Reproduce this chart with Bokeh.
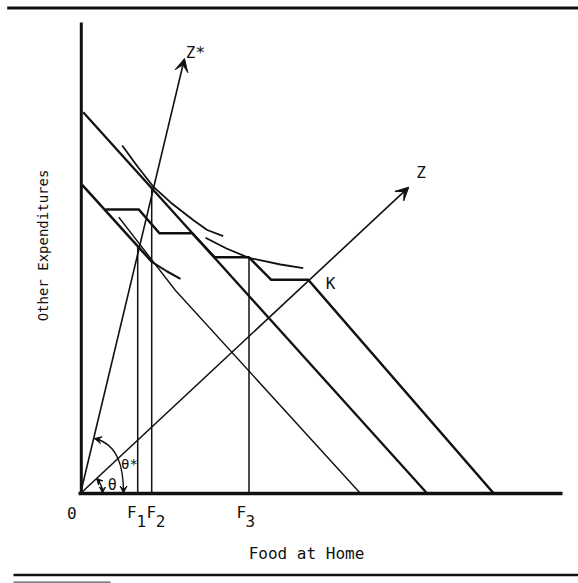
import math
from bokeh.plotting import figure
from bokeh.models import Range1d, Arrow, VeeHead
from bokeh.core.properties import value
from bokeh.embed import file_html
from bokeh.resources import INLINE

# ---------------- data (diagram units, origin at the axes corner) ----------------
axis_x = [-2, 482]
axis_y = [0, 471]

# outer budget line
budget_outer_x = [2.7, 346.7]
budget_outer_y = [381.3, 0.0]

# inner budget line (thick upper part) and lower indifference curve
budget_inner_x = [1.7, 71.7]
budget_inner_y = [308.7, 231.3]
ic_low_x = [71.7, 86.7, 100.0]
ic_low_y = [231.3, 222.0, 214.7]

# thin line (lower tangent / budget)
thin_x = [38.3, 95.0, 280.0]
thin_y = [276.3, 203.0, 0.0]

# kinked budget constraint through K
kinked_x = [25.0, 58.3, 79.0, 111.7, 134.0, 168.3, 190.7, 227.7, 413.3]
kinked_y = [284.0, 284.0, 260.3, 260.3, 236.3, 236.3, 213.7, 213.7, 0.0]

# indifference curves
ic_high_x = [41.7, 57.0, 73.3, 91.7, 113.3, 126.7, 142.7]
ic_high_y = [348.0, 327.0, 306.3, 289.7, 273.0, 263.5, 257.3]
ic_mid_x = [125.0, 146.0, 168.3, 200.0, 222.7]
ic_mid_y = [255.7, 245.0, 235.7, 229.0, 225.3]

# quantities F1, F2, F3 and heights of their vertical lines
f_names = ["1", "2", "3"]
f_x = [57.2, 71.2, 168.5]
f_top = [247.0, 306.3, 235.7]

# rays Z* and Z (end points)
zstar_end = (104.0, 435.0)
z_end = (328.3, 306.3)

# --------------------------------- figure ---------------------------------
p = figure(width=578, height=583, x_range=Range1d(-80, 498), y_range=Range1d(-90, 493),
           output_backend="svg", toolbar_location=None,
           x_axis_location=None, y_axis_location=None, min_border=0)
p.outline_line_color = None
p.grid.visible = False
p.background_fill_color = "white"
p.border_fill_color = "white"

INK = "#111111"
FONT = value("DejaVu Sans Mono")

# page rules
p.line([-73.3, 498], [485.5, 485.5], line_color=INK, line_width=3)
p.line([-67, 498], [-81.5, -81.5], line_color=INK, line_width=2.5)
p.line([-67, 30], [-88.7, -88.7], line_color="#555555", line_width=1.3)

# axes
p.line(axis_x, [0, 0], line_color=INK, line_width=3.5)
p.line([0.8, 0.8], axis_y, line_color=INK, line_width=3)

# budget lines
p.line(budget_outer_x, budget_outer_y, line_color=INK, line_width=2.3)
p.line(budget_inner_x, budget_inner_y, line_color=INK, line_width=2.5)
p.line(ic_low_x, ic_low_y, line_color=INK, line_width=2.0)
p.line(thin_x, thin_y, line_color=INK, line_width=1.4)
p.line(kinked_x, kinked_y, line_color=INK, line_width=2.5, line_join="miter")

# indifference curves
p.line(ic_high_x, ic_high_y, line_color=INK, line_width=1.8)
p.line(ic_mid_x, ic_mid_y, line_color=INK, line_width=1.8)

# vertical lines at F1, F2, F3
p.segment(x0=f_x, y0=[0, 0, 0], x1=f_x, y1=f_top, line_color=INK, line_width=1.5)

# rays
p.add_layout(Arrow(end=VeeHead(size=13, fill_color=INK, line_color=INK, line_width=1),
                   x_start=0, y_start=0, x_end=zstar_end[0], y_end=zstar_end[1],
                   line_color=INK, line_width=1.6))
p.add_layout(Arrow(end=VeeHead(size=13, fill_color=INK, line_color=INK, line_width=1),
                   x_start=0, y_start=0, x_end=z_end[0], y_end=z_end[1],
                   line_color=INK, line_width=1.6))

# angle theta* (curved double arrow between Z* and the axis)
p.bezier(x0=[43], y0=[0.5], x1=[14], y1=[55], cx0=[43], cy0=[25], cx1=[38.3], cy1=[49.1],
         line_color=INK, line_width=1.4)
for xs, ys, xe, ye in [(43, 7, 43, 0.5), (19.8, 53.6, 14, 55)]:
    p.add_layout(Arrow(end=VeeHead(size=7, fill_color=INK, line_color=INK, line_width=1),
                       x_start=xs, y_start=ys, x_end=xe, y_end=ye,
                       line_color=INK, line_width=1.2))

# angle theta (small arc between Z and the axis)
z_ang = math.atan2(z_end[1], z_end[0])
p.arc(x=[0], y=[0], radius=22, start_angle=0.03, end_angle=z_ang,
      line_color=INK, line_width=1.4)
ux, uy = 22 * math.cos(z_ang), 22 * math.sin(z_ang)
for xs, ys, xe, ye in [(22, 6, 22, 0.5), (ux + 4.5 * math.sin(z_ang), uy - 4.5 * math.cos(z_ang), ux, uy)]:
    p.add_layout(Arrow(end=VeeHead(size=6, fill_color=INK, line_color=INK, line_width=1),
                       x_start=xs, y_start=ys, x_end=xe, y_end=ye,
                       line_color=INK, line_width=1.2))

# labels
def txt(x, y, t, size="16px", angle=0.0, align="center"):
    p.text(x=[x], y=[y], text=[t], text_font=FONT, text_font_size=value(size),
           text_color=INK, text_align=align, text_baseline="middle", angle=angle)

txt(115, 441, "Z*")
txt(340.5, 321, "Z")
txt(250, 210, "K")
txt(49, 30, "θ*", size="14px")
txt(31.7, 8.3, "θ", size="15px")
txt(-8.8, -19, "0")
f_letter_x = [51.2, 70.8, 160.8]
f_digit_x = [60.8, 80.0, 169.7]
for fx, dx, n in zip(f_letter_x, f_digit_x, f_names):
    txt(fx, -19, "F")
    txt(dx, -27, n)
txt(226, -59.5, "Food at Home")
txt(-38, 248, "Other Expenditures", size="14px", angle=math.pi / 2)

open("out.html", "w").write(file_html(p, INLINE))
